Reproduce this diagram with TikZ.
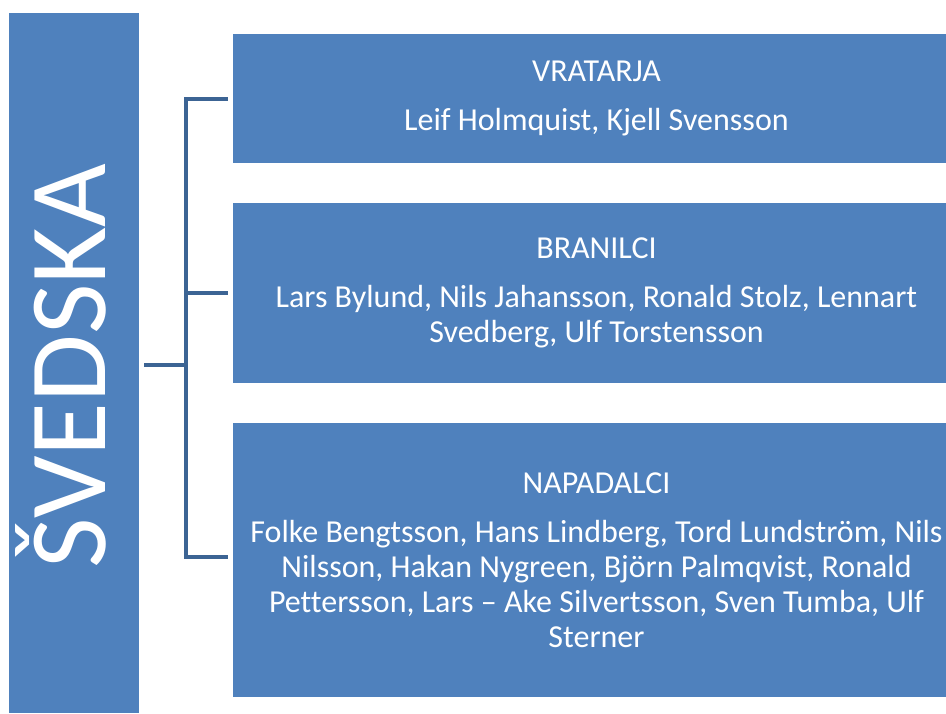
\documentclass[tikz,border=0pt]{standalone}
\usepackage{fontspec}
\setmainfont[Ligatures=NoCommon]{Carlito}
\definecolor{boxblue}{HTML}{4F81BD}
\definecolor{brkblue}{HTML}{3C6494}
\begin{document}
\begin{tikzpicture}[x=1pt,y=-1pt,
  box/.style={fill=boxblue, draw=none, inner sep=0pt, text=white, align=center,
    font=\fontsize{32}{35}\selectfont},
  brk/.style={draw=brkblue, line width=4pt, line cap=rect}]
\useasboundingbox (0,0) rectangle (946,713);
\node[box, minimum width=130pt, minimum height=700pt] (sv) at (74,363) {};
\node[text=white, rotate=90, inner sep=0pt, font=\fontsize{110}{132}\selectfont] (svt) at (61,366) {ŠVEDSKA};
\node[box, minimum width=727pt, minimum height=129pt] (g1) at (596.5,98.5)
  {VRATARJA\\[14pt]Leif Holmquist, Kjell Svensson};
\node[box, minimum width=727pt, minimum height=180pt] (g2) at (596.5,293)
  {BRANILCI\\[14pt]Lars Bylund, Nils Jahansson, Ronald Stolz, Lennart\\Svedberg, Ulf Torstensson};
\node[box, minimum width=727pt, minimum height=274pt] (g3) at (596.5,560)
  {NAPADALCI\\[14pt]Folke Bengtsson, Hans Lindberg, Tord Lundström, Nils\\Nilsson, Hakan Nygreen, Björn Palmqvist, Ronald\\Pettersson, Lars – Ake Silvertsson, Sven Tumba, Ulf\\Sterner};
\coordinate (j) at (186,365);
\draw[brk] ([xshift=7pt]sv.east |- j) -- (j);
\draw[brk] ([xshift=-7pt]g1.west) -| (j) |- ([xshift=-7pt,yshift=3pt]g3.west);
\draw[brk] (j |- g2.west) -- ([xshift=-7pt]g2.west);
\end{tikzpicture}
\end{document}
